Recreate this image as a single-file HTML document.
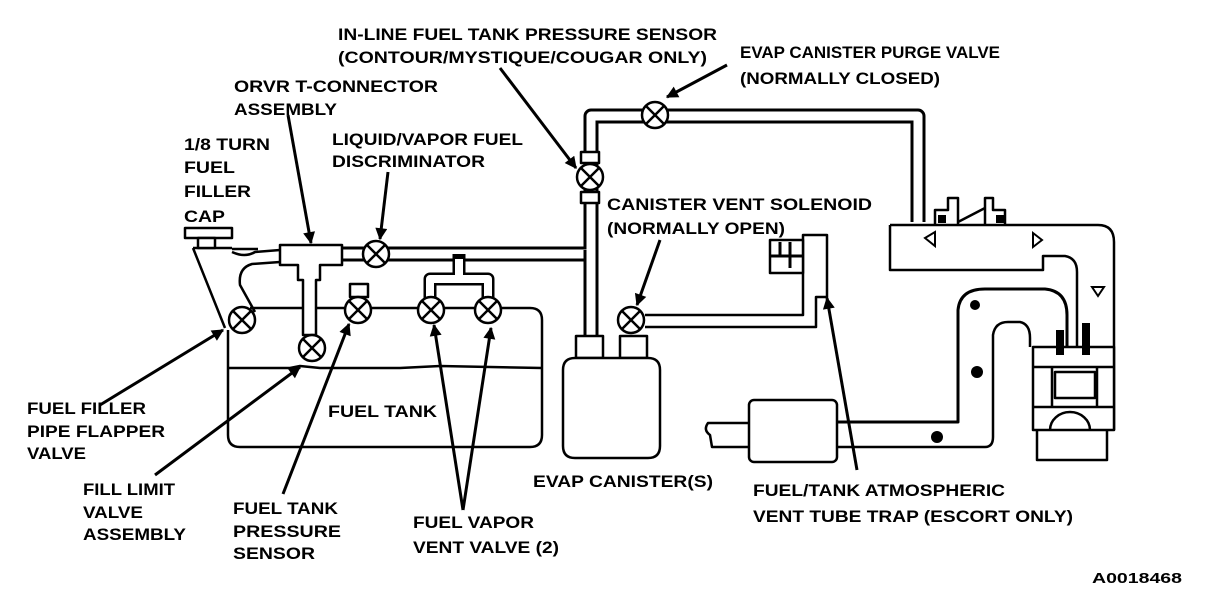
<!DOCTYPE html>
<html><head><meta charset="utf-8"><style>
html,body{margin:0;padding:0;background:#fff;}
svg{display:block;}
text{font-family:"Liberation Sans",sans-serif;font-weight:bold;font-size:17px;fill:#000;}
</style></head><body>
<svg width="1216" height="602" viewBox="0 0 1216 602" xmlns="http://www.w3.org/2000/svg">
<defs>
<marker id="ah" viewBox="0 0 10 10" refX="9" refY="5" markerWidth="5" markerHeight="4" orient="auto" markerUnits="strokeWidth">
<path d="M0,0 L10,5 L0,10 z" fill="#000"/></marker>
<g id="vx"><circle r="13" fill="#fff" stroke="#000" stroke-width="2.5"/><path d="M-9,-9 L9,9 M9,-9 L-9,9" stroke="#000" stroke-width="2.5"/></g>
</defs>
<g fill="none" stroke="#000" stroke-linejoin="round">
<!-- tank -->
<path d="M228,330 L228,435 Q228,447 240,447 L530,447 Q542,447 542,435 L542,320 Q542,308 530,308 L250,308" stroke-width="2.5"/>
<path d="M228,368 L290,368 L300,366 L320,368 L400,368 L440,366 L542,368" stroke-width="2.5"/>
<!-- filler pipe -->
<path d="M193,248 L225,328 M232,249 L258,249 M193,248 L232,248" stroke-width="2.5"/>
<path d="M232,252 Q245,258 255,252 L280,250" stroke-width="2.5"/>
<path d="M280,262 L252,264 Q238,268 240,285 L255,312" stroke-width="2.5"/>
<!-- cap -->
<rect x="185" y="228" width="47" height="10" fill="#fff" stroke-width="2.5"/>
<rect x="198" y="238" width="17" height="10" fill="#fff" stroke-width="2.5"/>
<!-- main pipe -->
<path d="M342,254 L591,254 L591,116 L918,116 L918,222" stroke-width="15"/>
<path d="M342,254 L591,254 L591,116 L918,116 L918,222" stroke="#fff" stroke-width="9"/>
<path d="M591,250 L591,337" stroke-width="15"/>
<path d="M591,248 L591,337" stroke="#fff" stroke-width="9"/>
<!-- vapor vent branch -->
<path d="M459,254 L459,279 M430,300 L430,279 L488,279 L488,300" stroke-width="13"/>
<path d="M459,259 L459,279 M430,300 L430,279 L488,279 L488,300" stroke="#fff" stroke-width="8"/>
<!-- T connector -->
<path d="M280,245 L342,245 L342,265 L320,265 L320,280 L316,280 L316,335 L303,335 L303,280 L298,280 L298,265 L280,265 Z" fill="#fff" stroke-width="2.5"/>
<!-- pressure sensor cap -->
<rect x="350" y="284" width="18" height="13" fill="#fff" stroke-width="2.5"/>
<!-- canister -->
<rect x="576" y="336" width="27" height="22" fill="#fff" stroke-width="2.5"/>
<rect x="620" y="336" width="27" height="22" fill="#fff" stroke-width="2.5"/>
<path d="M575,358 L648,358 Q660,358 660,370 L660,446 Q660,458 648,458 L575,458 Q563,458 563,446 L563,370 Q563,358 575,358 Z" fill="#fff" stroke-width="2.5"/>
<!-- vent tube -->
<path d="M645,315 L803,315 L803,235 L827,235 L827,297 L816,297 L816,327 L645,327" stroke-width="2.5"/>
<rect x="770" y="240" width="33" height="33" fill="#fff" stroke-width="2.5"/>
<path d="M770,256 L803,256 M780,242 L780,256 M790,242 L790,268" stroke-width="3"/>
<!-- inline sensor rects -->
<rect x="581" y="152" width="18" height="11" fill="#fff" stroke-width="2.5"/>
<rect x="581" y="192" width="18" height="11" fill="#fff" stroke-width="2.5"/>
<!-- air box -->
<path d="M890,225 L1098,225 Q1114,225 1114,242 L1114,430 M890,225 L890,270 L1043,270 L1043,256 L1065,256 Q1077,258 1077,272 L1077,347" stroke-width="2.5"/>
<path d="M935,225 L935,210 L948,210 L948,198 L958,198 L958,225 M985,225 L985,198 L993,198 L993,210 L1005,210 L1005,225 M958,222 L985,208" stroke-width="2.5"/>
<rect x="938" y="215" width="8" height="8" fill="#000" stroke="none"/>
<rect x="996" y="215" width="8" height="8" fill="#000" stroke="none"/>
<!-- engine -->
<path d="M1033,347 L1114,347 L1114,430 L1033,430 Z M1033,367 L1114,367 M1033,407 L1114,407 M1052,367 L1052,407 M1097,367 L1097,407" fill="#fff" stroke-width="2.5"/>
<rect x="1055" y="372" width="40" height="26" fill="#fff" stroke-width="2.5"/>
<rect x="1056" y="330" width="8" height="25" fill="#000" stroke="none"/>
<rect x="1082" y="323" width="8" height="32" fill="#000" stroke="none"/>
<path d="M1050,430 A20,18 0 0 1 1090,430" stroke-width="2.5"/>
<path d="M1037,430 L1037,460 L1107,460 L1107,430" stroke-width="2.5"/>
<!-- intake tube -->
<path d="M837,422 L958,422 L958,310 Q960,289 985,289 L1045,289 Q1067,291 1067,315 L1067,347" stroke-width="3"/>
<path d="M837,447 L985,447 Q993,447 993,437 L993,335 Q995,322 1008,322 L1020,322 Q1030,324 1030,338 L1030,347" stroke-width="2.5"/>
<path d="M749,423 L708,423 Q703,430 710,435 L712,447 L749,447" stroke-width="2.5"/>
<rect x="749" y="400" width="88" height="62" rx="5" fill="#fff" stroke-width="2.5"/>
</g>
<!-- flow markers -->
<g fill="#000">
<circle cx="975" cy="305" r="5"/><circle cx="977" cy="372" r="6"/><circle cx="937" cy="437" r="6"/>
</g>
<g fill="#fff" stroke="#000" stroke-width="2">
<path d="M925,238 L935,232 L935,246 Z"/><path d="M1033,233 L1042,240 L1033,247 Z"/><path d="M1092,287 L1104,287 L1098,296 Z"/>
</g>
<!-- valves -->
<use href="#vx" x="312" y="348"/>
<use href="#vx" x="376" y="254"/>
<use href="#vx" x="358" y="310"/>
<use href="#vx" x="431" y="310"/>
<use href="#vx" x="488" y="310"/>
<use href="#vx" x="242" y="320"/>
<use href="#vx" x="631" y="320"/>
<use href="#vx" x="655" y="115"/>
<use href="#vx" x="590" y="177"/>
<!-- leaders -->
<g stroke="#000" stroke-width="3" fill="none" marker-end="url(#ah)">
<line x1="500" y1="68" x2="576" y2="168"/>
<line x1="727" y1="65" x2="667" y2="97"/>
<line x1="288" y1="115" x2="311" y2="243"/>
<line x1="388" y1="172" x2="380" y2="239"/>
<line x1="660" y1="240" x2="637" y2="305"/>
<line x1="100" y1="405" x2="223" y2="330"/>
<line x1="155" y1="475" x2="300" y2="367"/>
<line x1="283" y1="494" x2="349" y2="324"/>
<line x1="463" y1="510" x2="434" y2="325"/>
<line x1="463" y1="510" x2="491" y2="328"/>
<line x1="857" y1="470" x2="827" y2="298"/>
</g>
<!-- labels -->
<text x="338" y="40" textLength="379" lengthAdjust="spacingAndGlyphs">IN-LINE FUEL TANK PRESSURE SENSOR</text>
<text x="338" y="63" textLength="369" lengthAdjust="spacingAndGlyphs">(CONTOUR/MYSTIQUE/COUGAR ONLY)</text>
<text x="740" y="58" textLength="260" lengthAdjust="spacingAndGlyphs">EVAP CANISTER PURGE VALVE</text>
<text x="740" y="84" textLength="200" lengthAdjust="spacingAndGlyphs">(NORMALLY CLOSED)</text>
<text x="234" y="92" textLength="204" lengthAdjust="spacingAndGlyphs">ORVR T-CONNECTOR</text>
<text x="234" y="115" textLength="103" lengthAdjust="spacingAndGlyphs">ASSEMBLY</text>
<text x="184" y="150" textLength="86" lengthAdjust="spacingAndGlyphs">1/8 TURN</text>
<text x="184" y="173" textLength="51" lengthAdjust="spacingAndGlyphs">FUEL</text>
<text x="184" y="197" textLength="67" lengthAdjust="spacingAndGlyphs">FILLER</text>
<text x="184" y="222" textLength="41" lengthAdjust="spacingAndGlyphs">CAP</text>
<text x="332" y="145" textLength="191" lengthAdjust="spacingAndGlyphs">LIQUID/VAPOR FUEL</text>
<text x="332" y="167" textLength="153" lengthAdjust="spacingAndGlyphs">DISCRIMINATOR</text>
<text x="607" y="210" textLength="265" lengthAdjust="spacingAndGlyphs">CANISTER VENT SOLENOID</text>
<text x="607" y="234" textLength="178" lengthAdjust="spacingAndGlyphs">(NORMALLY OPEN)</text>
<text x="27" y="414" textLength="119" lengthAdjust="spacingAndGlyphs">FUEL FILLER</text>
<text x="27" y="437" textLength="138" lengthAdjust="spacingAndGlyphs">PIPE FLAPPER</text>
<text x="27" y="459" textLength="59" lengthAdjust="spacingAndGlyphs">VALVE</text>
<text x="328" y="417" textLength="109" lengthAdjust="spacingAndGlyphs">FUEL TANK</text>
<text x="83" y="495" textLength="92" lengthAdjust="spacingAndGlyphs">FILL LIMIT</text>
<text x="83" y="518" textLength="60" lengthAdjust="spacingAndGlyphs">VALVE</text>
<text x="83" y="540" textLength="103" lengthAdjust="spacingAndGlyphs">ASSEMBLY</text>
<text x="233" y="514" textLength="105" lengthAdjust="spacingAndGlyphs">FUEL TANK</text>
<text x="233" y="537" textLength="108" lengthAdjust="spacingAndGlyphs">PRESSURE</text>
<text x="233" y="559" textLength="82" lengthAdjust="spacingAndGlyphs">SENSOR</text>
<text x="413" y="528" textLength="121" lengthAdjust="spacingAndGlyphs">FUEL VAPOR</text>
<text x="413" y="553" textLength="146" lengthAdjust="spacingAndGlyphs">VENT VALVE (2)</text>
<text x="533" y="487" textLength="180" lengthAdjust="spacingAndGlyphs">EVAP CANISTER(S)</text>
<text x="753" y="496" textLength="252" lengthAdjust="spacingAndGlyphs">FUEL/TANK ATMOSPHERIC</text>
<text x="753" y="522" textLength="320" lengthAdjust="spacingAndGlyphs">VENT TUBE TRAP (ESCORT ONLY)</text>
<text x="1092" y="583" textLength="90" lengthAdjust="spacingAndGlyphs" style="font-size:15px">A0018468</text>
</svg>
</body></html>
